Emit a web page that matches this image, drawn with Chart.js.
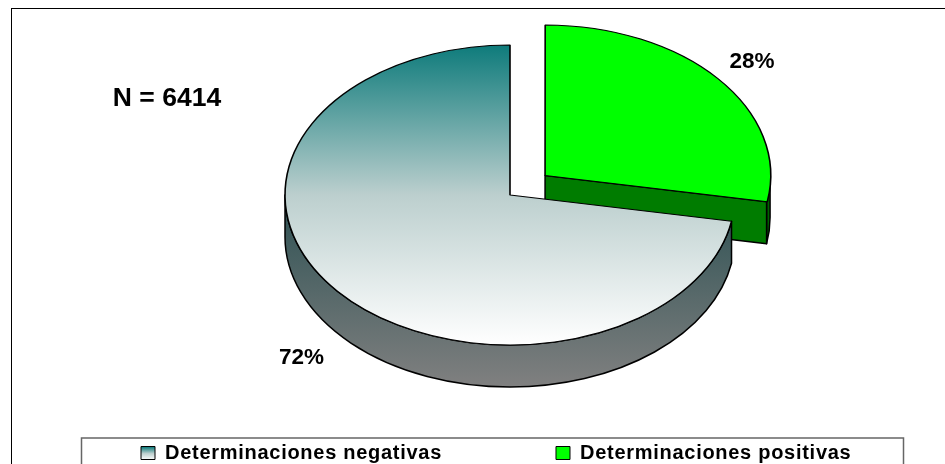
<!DOCTYPE html>
<html>
<head>
<meta charset="utf-8">
<style>html,body{margin:0;padding:0;background:#fff}#w{width:945px;height:464px;position:relative}</style>
<script src="https://cdn.jsdelivr.net/npm/chart.js@4"></script>
</head>
<body>
<div id="w"><canvas id="c" width="945" height="464"></canvas></div>
<script>
const categories = ["Determinaciones positivas", "Determinaciones negativas"];
const values = [27.8, 72.2];
const sampleLabel = "N = 6414";

const FONT = '"Liberation Sans", Arial, sans-serif';
const CX = 510, CY = 195, K = 2 / 3, R = 225, DEPTH = 42;
const OFFSET = 183;
const LEGEND_PAD = 114;
const SPACING = '0.72px';

function topStops(g) {
  g.addColorStop(0, '#0e7b7b');
  g.addColorStop(0.5, '#bccfce');
  g.addColorStop(1, '#ffffff');
  return g;
}

function slicePos(el, off) {
  const mid = (el.startAngle + el.endAngle) / 2;
  const c = off / 4;
  return { x: CX + Math.cos(mid) * c, y: CY + Math.sin(mid) * c * K };
}

const pie3d = {
  id: 'pie3d',
  beforeLayout(chart) { chart.ctx.letterSpacing = SPACING; },
  afterLayout(chart) {
    const lg = chart.legend;
    lg.left = 141 - LEGEND_PAD;
    lg.right = 2000;
    lg.top = 443 - LEGEND_PAD;
  },
  beforeDraw(chart) {
    const ctx = chart.ctx;
    ctx.save();
    ctx.letterSpacing = '0px';
    ctx.fillStyle = '#fff';
    ctx.fillRect(0, 0, chart.width, chart.height);
    ctx.strokeStyle = '#000';
    ctx.lineWidth = 1;
    ctx.strokeRect(11.5, 8.5, 1000, 1000);
    ctx.strokeStyle = '#666';
    ctx.lineWidth = 1.5;
    ctx.strokeRect(81.5, 438, 822, 100);
    ctx.restore();
    ctx.letterSpacing = SPACING;
  },
  beforeDatasetsDraw(chart) {
    const ctx = chart.ctx;
    const meta = chart.getDatasetMeta(0);
    const [pos, neg] = meta.data;
    ctx.save();
    ctx.lineWidth = 1.5;
    ctx.strokeStyle = '#000';
    ctx.lineJoin = 'round';

    // positive slice: cut face and rim
    const p = slicePos(pos, OFFSET);
    const rp = pos.outerRadius;
    const ex = p.x + rp * Math.cos(pos.endAngle);
    const ey = p.y + rp * K * Math.sin(pos.endAngle);
    ctx.fillStyle = '#006400';
    ctx.beginPath();
    ctx.ellipse(p.x, p.y, rp, rp * K, 0, 0, pos.endAngle);
    ctx.ellipse(p.x, p.y + DEPTH, rp, rp * K, 0, pos.endAngle, 0, true);
    ctx.closePath();
    ctx.fill(); ctx.stroke();
    ctx.fillStyle = '#007c00';
    ctx.beginPath();
    ctx.moveTo(p.x, p.y);
    ctx.lineTo(ex, ey);
    ctx.lineTo(ex, ey + DEPTH);
    ctx.lineTo(p.x, p.y + DEPTH);
    ctx.closePath();
    ctx.fill(); ctx.stroke();

    // negative slice: rim
    const rn = neg.outerRadius;
    const g = ctx.createLinearGradient(0, CY, 0, CY + rn * K + DEPTH);
    g.addColorStop(0, '#2c5052');
    g.addColorStop(1, '#808080');
    ctx.fillStyle = g;
    ctx.beginPath();
    ctx.ellipse(CX, CY, rn, rn * K, 0, neg.startAngle, Math.PI);
    ctx.ellipse(CX, CY + DEPTH, rn, rn * K, 0, Math.PI, neg.startAngle, true);
    ctx.closePath();
    ctx.fill(); ctx.stroke();
    ctx.restore();

    // flatten the pie drawn by the library into an ellipse
    ctx.save();
    const a = chart.chartArea;
    const cy0 = (a.top + a.bottom) / 2;
    const cx0 = (a.left + a.right) / 2;
    ctx.translate(CX - cx0, CY);
    ctx.scale(1, K);
    ctx.translate(0, -cy0);
  },
  afterDatasetsDraw(chart) {
    chart.ctx.restore();
  },
  afterDraw(chart) {
    const ctx = chart.ctx;
    ctx.save();
    ctx.letterSpacing = '0px';
    ctx.fillStyle = '#000';
    ctx.textBaseline = 'middle';
    ctx.textAlign = 'center';
    ctx.font = 'bold 22.5px ' + FONT;
    ctx.fillText(Math.round(values[0]) + '%', 752, 62);
    ctx.fillText(Math.round(values[1]) + '%', 301.5, 358);
    ctx.font = 'bold 26.5px ' + FONT;
    ctx.fillText(sampleLabel, 167, 99);
    ctx.restore();
  }
};

const baseLabels = Chart.overrides.pie.plugins.legend.labels.generateLabels;

new Chart(document.getElementById('c'), {
  type: 'pie',
  data: {
    labels: categories,
    datasets: [{
      data: values,
      clip: false,
      offset: [OFFSET, 0],
      radius: R,
      borderColor: '#000',
      borderWidth: 1.6,
      backgroundColor(ctx) {
        if (ctx.dataIndex === 0) return '#00ff00';
        const a = ctx.chart.chartArea;
        if (!a) return '#bccfce';
        const c = (a.top + a.bottom) / 2;
        return topStops(ctx.chart.ctx.createLinearGradient(0, c - R, 0, c + R));
      }
    }]
  },
  options: {
    responsive: false,
    animation: false,
    radius: R,
    rotation: 0,
    plugins: {
      tooltip: { enabled: false },
      legend: {
        position: 'bottom',
        align: 'start',
        reverse: true,
        labels: {
          color: '#000',
          boxWidth: 14,
          boxHeight: 13,
          padding: LEGEND_PAD,
          font: { family: FONT, size: 20, weight: 'bold' },
          generateLabels(chart) {
            const items = baseLabels(chart);
            items.forEach(it => {
              it.lineWidth = 1;
              it.strokeStyle = '#000';
              if (it.index === 1) {
                it.fillStyle = topStops(chart.ctx.createLinearGradient(0, 447, 0, 460));
              }
            });
            return items;
          }
        }
      }
    }
  },
  plugins: [pie3d]
});
</script>
</body>
</html>
